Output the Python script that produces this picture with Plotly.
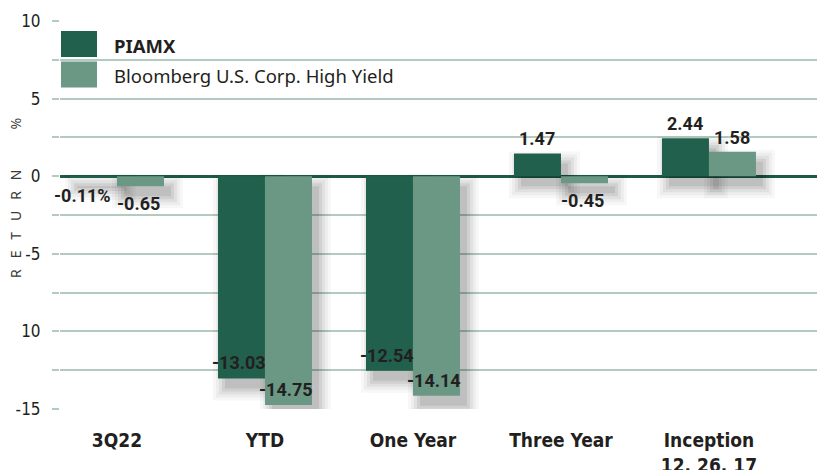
import plotly.graph_objects as go

categories = ["3Q22", "YTD", "One Year", "Three Year", "Inception<br>12. 26. 17"]
piamx = [-0.11, -13.03, -12.54, 1.47, 2.44]
bloomberg = [-0.65, -14.75, -14.14, -0.45, 1.58]
piamx_labels = ["-0.11%", "-13.03", "-12.54", "1.47", "2.44"]
bloomberg_labels = ["-0.65", "-14.75", "-14.14", "-0.45", "1.58"]
y_tickvals = [10, 5, 0, -5, -10, -15]
y_ticktext = ["10", "5", "0", "-5", "10", "-15"]

DARK = "#21604c"
LIGHT = "#6a9884"
GRID = "#b3cabf"
TEXT = "#231f20"
COND = "Liberation Sans Narrow, DejaVu Sans Condensed, Arial Narrow, sans-serif"
LBL = "Roboto, sans-serif"
REG = "Noto Sans, Open Sans, sans-serif"

TOP, BOT = 21, 409
W, H = 757.0, float(BOT - TOP)

x = list(range(len(categories)))
BW = 47 / 148.0           # one bar width in category units
PX_X = 1 / 148.0          # one pixel in x units
PX_Y = 25 / H             # one pixel in y units

fig = go.Figure()

# soft drop shadows
series = [(piamx, -BW), (bloomberg, 0.0)]
layers = [(12, 0.03), (9, 0.04), (6, 0.05), (3, 0.07), (0, 0.08)]
for vals, off in series:
    for e, a in layers:
        lo = [min(0, v) - 10 * PX_Y - e * PX_Y for v in vals]
        hi = [max(0, v) - 10 * PX_Y + e * PX_Y for v in vals]
        fig.add_trace(go.Bar(
            x=x, y=[h - l for h, l in zip(hi, lo)], base=lo,
            width=BW + 2 * e * PX_X, offset=off + 7 * PX_X - e * PX_X,
            marker=dict(color=f"rgba(0,0,0,{a})", line=dict(width=0)),
            hoverinfo="skip", showlegend=False))

fig.add_trace(go.Bar(x=x, y=piamx, width=BW, offset=-BW, name="PIAMX",
                     marker=dict(color=DARK, line=dict(width=0)), showlegend=False))
fig.add_trace(go.Bar(x=x, y=bloomberg, width=BW, offset=0.0,
                     name="Bloomberg U.S. Corp. High Yield",
                     marker=dict(color=LIGHT, line=dict(width=0)), showlegend=False))

annotations = []
for vals, labels, off in [(piamx, piamx_labels, -BW / 2), (bloomberg, bloomberg_labels, BW / 2)]:
    for i, (v, t) in enumerate(zip(vals, labels)):
        if v >= 0:
            ya, ys = "bottom", 2
        elif v > -2:
            ya, ys = "top", -5
        else:
            ya, ys = "bottom", 3
        xs = -11 if t.endswith("%") else -2 if v < 0 else 0
        annotations.append(dict(x=i + off, y=v, xref="x", yref="y", text=f"<b>{t}</b>",
                                showarrow=False, yanchor=ya, yshift=ys, xshift=xs,
                                font=dict(family=LBL, size=18, color=TEXT)))

# y-axis title
sp = "\u00a0" * 3
annotations.append(dict(x=-45 / W, y=(BOT - 198) / H, xref="paper", yref="paper",
                        xanchor="center", yanchor="middle",
                        text=sp.join(list("RETURN")) + "\u00a0" * 11 + "%", textangle=-90,
                        showarrow=False,
                        font=dict(family=REG, size=14, color="#3a3a3a")))

# legend
leg_names = ["<b>PIAMX</b>", "Bloomberg U.S. Corp. High Yield"]
leg_colors = [DARK, LIGHT]
shapes = []
for k, (nm, col) in enumerate(zip(leg_names, leg_colors)):
    top = 31 + k * 30.5
    shapes.append(dict(type="rect", xref="paper", yref="paper",
                       x0=1 / W, x1=37 / W, y0=(BOT - top - 26) / H, y1=(BOT - top) / H,
                       fillcolor=col, line=dict(width=0), layer="above"))
    annotations.append(dict(x=52 / W, y=(BOT - top - 14) / H, xref="paper", yref="paper",
                            xanchor="left", yanchor="middle", text=nm, showarrow=False,
                            font=dict(family=REG, size=18.5, color=TEXT)))

fig.update_layout(
    width=817, height=470,
    margin=dict(l=60, r=0, t=TOP, b=470 - BOT),
    paper_bgcolor="white", plot_bgcolor="white",
    barmode="overlay",
    annotations=annotations, shapes=shapes,
    xaxis=dict(range=[-0.385, 4.73], tickvals=x, ticktext=[f"<b>{c}</b>" for c in categories],
               showgrid=False, zeroline=False, showline=False, ticks="", automargin=False,
               tickfont=dict(family=COND, size=19, color=TEXT), ticklabelstandoff=18),
    yaxis=dict(range=[-15, 10], tickvals=y_tickvals, ticktext=y_ticktext, automargin=False,
               showgrid=True, gridcolor=GRID, gridwidth=1.5,
               ticks="outside", ticklen=7, tickcolor=GRID, tickwidth=1.5,
               minor=dict(dtick=2.5, tick0=0, ticks="outside", ticklen=7, tickcolor=GRID,
                          showgrid=True, gridcolor=GRID, gridwidth=1.5),
               zeroline=True, zerolinecolor="#1d5a45", zerolinewidth=3,
               showline=False, ticklabelstandoff=8,
               tickfont=dict(family=COND, size=17, color=TEXT)),
)

fig.write_html("out.html", config={"displayModeBar": False},
               post_script="document.body.style.margin='0';document.body.style.overflow='hidden';")
